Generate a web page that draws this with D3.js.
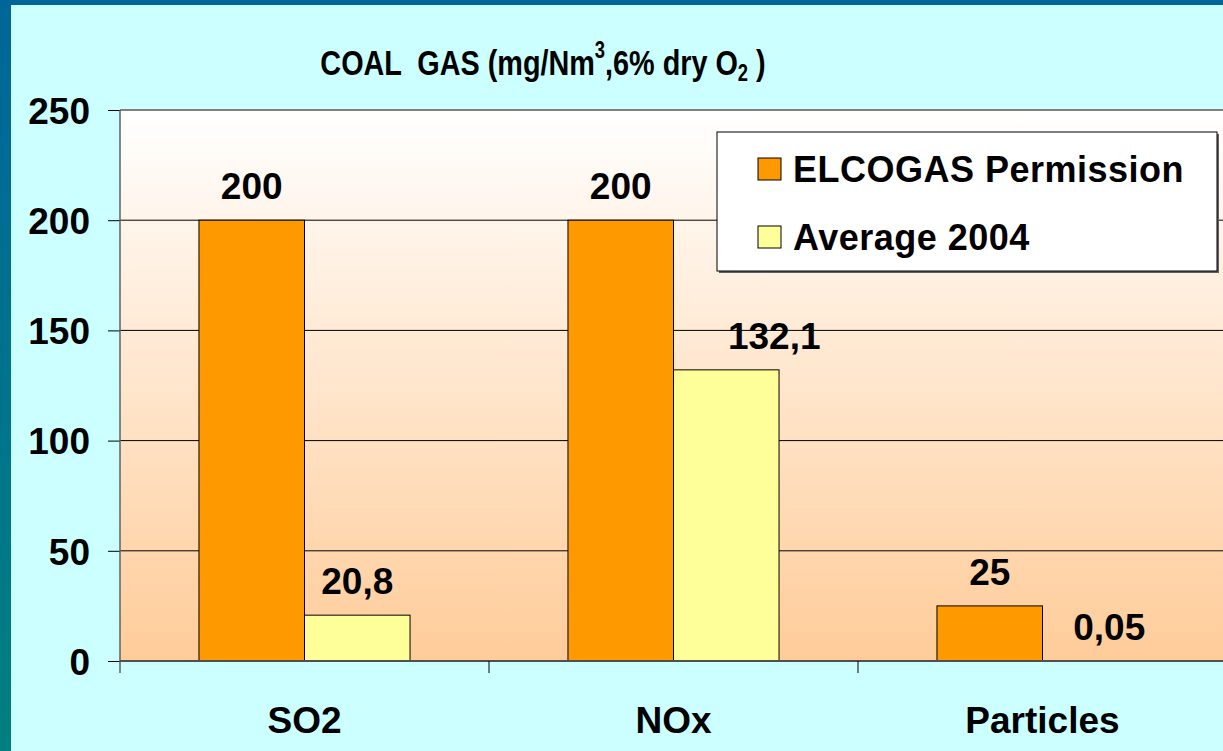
<!DOCTYPE html>
<html>
<head>
<meta charset="utf-8">
<script src="https://cdn.jsdelivr.net/npm/d3@7"></script>
<style>
  body { margin: 0; background: #ccffff; }
  svg { display: block; }
  text { font-family: "Liberation Sans", Arial, sans-serif; font-weight: bold; fill: #000; }
</style>
</head>
<body>
<svg id="chart" width="1223" height="751"></svg>
<script>
// chart values
var categories = ["SO2", "NOx", "Particles"];
var seriesNames = ["ELCOGAS Permission", "Average 2004"];
var permission = [200, 200, 25];
var average2004 = [20.8, 132.1, 0.05];
var yTicks = [0, 50, 100, 150, 200, 250];
var seriesColors = ["#ff9900", "#ffff99"];

var W = 1223, H = 751;
var plot = { left: 120, top: 110, right: 1227, bottom: 661 };

var svg = d3.select("#chart");
var defs = svg.append("defs");

var bg = defs.append("linearGradient").attr("id", "plotbg")
    .attr("x1", 0).attr("y1", 0).attr("x2", 0).attr("y2", 1);
bg.append("stop").attr("offset", "0%").attr("stop-color", "#ffffff");
bg.append("stop").attr("offset", "100%").attr("stop-color", "#ffcc99");

var edge = defs.append("linearGradient").attr("id", "edge")
    .attr("x1", 0).attr("y1", 0).attr("x2", 0).attr("y2", 1);
edge.append("stop").attr("offset", "0%").attr("stop-color", "#006699");
edge.append("stop").attr("offset", "100%").attr("stop-color", "#007f80");

// slide background + frame
svg.append("rect").attr("width", W).attr("height", H).attr("fill", "#ccffff");
svg.append("rect").attr("width", W).attr("height", 5).attr("fill", "#006699");
svg.append("rect").attr("width", 11).attr("height", H).attr("fill", "url(#edge)");

// scales
var y = d3.scaleLinear().domain([0, 250]).range([plot.bottom, plot.top]);
var x0 = d3.scaleBand().domain(categories).range([plot.left, plot.right])
    .paddingInner(0.428).paddingOuter(0.214);
var x1 = d3.scaleBand().domain(seriesNames).range([0, x0.bandwidth()]);

// plot area
svg.append("rect")
    .attr("x", plot.left).attr("y", plot.top)
    .attr("width", plot.right - plot.left).attr("height", plot.bottom - plot.top)
    .attr("fill", "url(#plotbg)");

// gridlines
svg.append("g").selectAll("line")
    .data(yTicks.filter(function (d) { return d > 0 && d < 250; }))
    .enter().append("line")
    .attr("x1", plot.left).attr("x2", plot.right)
    .attr("y1", function (d) { return y(d); }).attr("y2", function (d) { return y(d); })
    .attr("stroke", "#000").attr("stroke-width", 1);
svg.append("line")
    .attr("x1", plot.left).attr("x2", plot.right)
    .attr("y1", y(250)).attr("y2", y(250))
    .attr("stroke", "#808080").attr("stroke-width", 2);

// y axis
var yAxis = svg.append("g")
    .attr("transform", "translate(" + plot.left + ",0)")
    .call(d3.axisLeft(y).tickValues(yTicks).tickSize(12).tickPadding(18));
yAxis.select(".domain").remove();
yAxis.selectAll(".tick line").attr("stroke", "#000");
yAxis.selectAll(".tick text")
    .attr("font-size", 37).attr("dy", "0.36em")
    .style("font-family", "'Liberation Sans', Arial, sans-serif").style("font-weight", "bold");
svg.append("line")
    .attr("x1", plot.left).attr("x2", plot.left)
    .attr("y1", plot.top).attr("y2", plot.bottom + 12)
    .attr("stroke", "#606060").attr("stroke-width", 1.5);

// bars
var rows = categories.map(function (c, i) {
    return { cat: c, vals: [permission[i], average2004[i]] };
});
var groups = svg.append("g").selectAll("g").data(rows).enter().append("g")
    .attr("transform", function (d) { return "translate(" + x0(d.cat) + ",0)"; });
groups.selectAll("rect")
    .data(function (d) { return d.vals.map(function (v, k) { return { s: seriesNames[k], k: k, v: v }; }); })
    .enter().append("rect")
    .attr("x", function (d) { return x1(d.s); })
    .attr("width", x1.bandwidth())
    .attr("y", function (d) { return y(d.v); })
    .attr("height", function (d) { return y(0) - y(d.v); })
    .attr("fill", function (d) { return seriesColors[d.k]; })
    .attr("stroke", "#000").attr("stroke-width", 1);

// value labels (comma decimal)
var nudge = { "132.1": 48, "0.05": 14 };
groups.selectAll("text")
    .data(function (d) { return d.vals.map(function (v, k) { return { s: seriesNames[k], v: v }; }); })
    .enter().append("text")
    .attr("x", function (d) { return x1(d.s) + x1.bandwidth() / 2 + (nudge[d.v] || 0); })
    .attr("y", function (d) { return y(d.v) - 21; })
    .attr("text-anchor", "middle")
    .attr("font-size", 37)
    .text(function (d) { return String(d.v).replace(".", ","); });

// x axis
svg.append("line")
    .attr("x1", plot.left).attr("x2", plot.right)
    .attr("y1", plot.bottom).attr("y2", plot.bottom)
    .attr("stroke", "#505050").attr("stroke-width", 2);
svg.append("g").selectAll("line")
    .data(categories.slice(1))
    .enter().append("line")
    .attr("x1", function (d) { return x0(d) - x0.step() * x0.paddingOuter(); })
    .attr("x2", function (d) { return x0(d) - x0.step() * x0.paddingOuter(); })
    .attr("y1", plot.bottom).attr("y2", plot.bottom + 12)
    .attr("stroke", "#000").attr("stroke-width", 1);
svg.append("g").selectAll("text")
    .data(categories)
    .enter().append("text")
    .attr("x", function (d) { return x0(d) + x0.bandwidth() / 2; })
    .attr("y", 733)
    .attr("text-anchor", "middle")
    .attr("font-size", 37)
    .text(function (d) { return d; });

// title
var title = svg.append("g").attr("transform", "translate(543,75) scale(0.8,1)")
    .append("text").attr("text-anchor", "middle").attr("font-size", 36)
    .style("white-space", "pre");
title.append("tspan").text("COAL  GAS (mg/Nm");
title.append("tspan").attr("font-size", 23).attr("dy", -17).text("3");
title.append("tspan").attr("dy", 17).text(",6% dry O");
title.append("tspan").attr("font-size", 23).attr("dy", 6).text("2");
title.append("tspan").attr("dy", -6).text(" )");

// legend
var legend = svg.append("g").attr("transform", "translate(717,132)");
legend.append("rect").attr("x", 2).attr("y", 2).attr("width", 500).attr("height", 139)
    .attr("fill", "#606060");
legend.append("rect").attr("width", 500).attr("height", 139)
    .attr("fill", "#fff").attr("stroke", "#000").attr("stroke-width", 1);
var items = legend.selectAll("g.item").data(seriesNames).enter().append("g")
    .attr("class", "item")
    .attr("transform", function (d, i) { return "translate(41," + (26 + i * 68) + ")"; });
items.append("rect").attr("width", 23).attr("height", 22)
    .attr("fill", function (d, i) { return seriesColors[i]; })
    .attr("stroke", "#000").attr("stroke-width", 1);
items.append("text").attr("x", 35).attr("y", 24).attr("font-size", 36)
    .attr("letter-spacing", 0.5)
    .text(function (d) { return d; });
</script>
</body>
</html>
